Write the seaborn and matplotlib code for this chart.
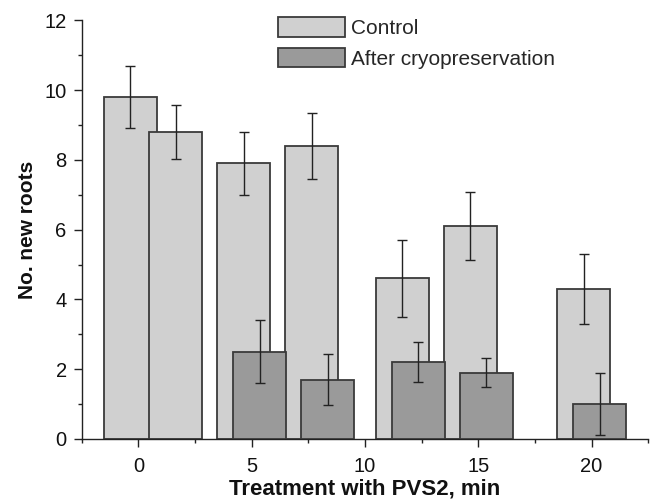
import numpy as np
import pandas as pd
import matplotlib
matplotlib.use("Agg")
import matplotlib.pyplot as plt
from matplotlib.patches import Patch
from matplotlib.ticker import MultipleLocator
import seaborn as sns

# ---- data ----
times_control = [0, 2, 5, 8, 12, 15, 20]
control_mean = [9.8, 8.8, 7.9, 8.4, 4.6, 6.1, 4.3]
control_err = [0.9, 0.77, 0.9, 0.95, 1.1, 0.98, 1.0]

times_cryo = [5, 8, 12, 15, 20]
cryo_mean = [2.5, 1.7, 2.2, 1.9, 1.0]
cryo_err = [0.9, 0.73, 0.57, 0.42, 0.9]

series_labels = ["Control", "After cryopreservation"]
x_ticks = [0, 5, 10, 15, 20]
y_ticks = [0, 2, 4, 6, 8, 10, 12]

# ---- style ----
sns.set_style("ticks")
plt.rcParams["font.family"] = ["Liberation Sans", "DejaVu Sans"]

C_CTRL = "#d0d0d0"
C_CRYO = "#9a9a9a"
C_EDGE = "#3a3a3a"
BAR_W = 2.32
SHIFT = 0.35

fig = plt.figure(figsize=(6.56, 5.01), dpi=100)
ax = fig.add_axes([0.1245, 0.1238, 0.8637, 0.8357])

ctrl = pd.DataFrame({"x": np.array(times_control, float) - SHIFT, "y": control_mean})
cryo = pd.DataFrame({"x": np.array(times_cryo, float) + SHIFT, "y": cryo_mean})

for df, col, z in [(ctrl, C_CTRL, 2), (cryo, C_CRYO, 3)]:
    native = np.min(np.diff(np.unique(df["x"])))
    sns.barplot(data=df, x="x", y="y", native_scale=True,
                width=BAR_W / native, color=col, saturation=1,
                edgecolor=C_EDGE, linewidth=1.3, errorbar=None,
                ax=ax, zorder=z)

ax.errorbar(ctrl["x"], ctrl["y"], yerr=control_err, fmt="none",
            ecolor="#222222", elinewidth=1.0, capsize=3.3, capthick=1.0, zorder=5)
ax.errorbar(cryo["x"], cryo["y"], yerr=cryo_err, fmt="none",
            ecolor="#222222", elinewidth=1.0, capsize=3.3, capthick=1.0, zorder=5)

ax.set_xlim(-2.5, 22.5)
ax.set_ylim(0, 12)
ax.set_xticks(x_ticks)
ax.set_xticklabels([str(t) for t in x_ticks])
ax.set_yticks(y_ticks)
ax.set_yticklabels([str(t) for t in y_ticks])
ax.xaxis.set_minor_locator(MultipleLocator(2.5))
ax.yaxis.set_minor_locator(MultipleLocator(1))

for s in ["top", "right"]:
    ax.spines[s].set_visible(False)
for s in ["left", "bottom"]:
    ax.spines[s].set_linewidth(1.0)
    ax.spines[s].set_color("#222222")

ax.tick_params(which="major", length=5.8, width=1.0, color="#222222",
               direction="out", labelsize=14.5, labelcolor="#111111", pad=5)
ax.tick_params(which="minor", length=3.1, width=1.0, color="#222222", direction="out")
ax.tick_params(axis="x", which="major", pad=7)

ax.set_xlabel("Treatment with PVS2, min", fontsize=16, fontweight="bold",
              color="#111111", labelpad=2)
ax.set_ylabel("No. new roots", fontsize=15, fontweight="bold",
              color="#111111", labelpad=5)

handles = [Patch(facecolor=C_CTRL, edgecolor=C_EDGE, linewidth=1.3),
           Patch(facecolor=C_CRYO, edgecolor=C_EDGE, linewidth=1.3)]
ax.legend(handles, series_labels, loc="upper left", bbox_to_anchor=(0.347, 1.007),
          frameon=False, fontsize=15, borderpad=0, borderaxespad=0,
          handlelength=3.2, handleheight=1.08, handletextpad=0.3,
          labelspacing=0.45)

fig.savefig("out.png", dpi=100)
